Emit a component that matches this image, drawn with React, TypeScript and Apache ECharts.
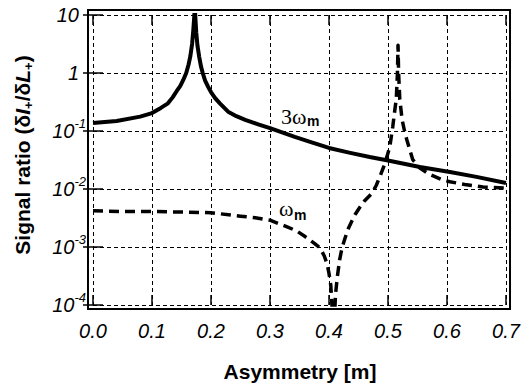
import React, { useEffect, useRef } from "react";
import * as echarts from "echarts";

// 3ω_m curve (solid)
const solidX = [0, 0.04, 0.08, 0.1, 0.115, 0.127, 0.135, 0.142, 0.148, 0.153, 0.158, 0.162, 0.165, 0.168, 0.17, 0.1715, 0.1725, 0.1735, 0.175, 0.177, 0.18, 0.183, 0.186, 0.19, 0.195, 0.2, 0.207, 0.215, 0.229, 0.243, 0.258, 0.28, 0.3, 0.342, 0.368, 0.4, 0.436, 0.469, 0.5, 0.554, 0.605, 0.65, 0.7];
const solidY = [0.137, 0.149, 0.177, 0.204, 0.25, 0.3, 0.38, 0.49, 0.6, 0.76, 1.0, 1.4, 1.95, 3.2, 5.5, 9, 14, 9, 5.0, 3.0, 1.9, 1.3, 1.0, 0.74, 0.58, 0.47, 0.37, 0.3, 0.215, 0.18, 0.155, 0.13, 0.112, 0.079, 0.065, 0.051, 0.042, 0.0356, 0.031, 0.024, 0.0196, 0.0162, 0.0127];

// ω_m curve (dashed)
const dashX = [0, 0.05, 0.1, 0.15, 0.2, 0.25, 0.275, 0.3, 0.33, 0.345, 0.36, 0.373, 0.385, 0.392, 0.397, 0.4, 0.403, 0.408, 0.411, 0.414, 0.418, 0.422, 0.427, 0.432, 0.438, 0.444, 0.452, 0.46, 0.473, 0.48, 0.486, 0.495, 0.503, 0.508, 0.512, 0.514, 0.516, 0.517, 0.518, 0.52, 0.524, 0.528, 0.532, 0.537, 0.542, 0.548, 0.554, 0.57, 0.593, 0.605, 0.63, 0.661, 0.7];
const dashY = [0.0042, 0.0041, 0.0041, 0.004, 0.0039, 0.0034, 0.0032, 0.0029, 0.0022, 0.0019, 0.0015, 0.0012, 0.00096, 0.0007, 0.0005, 0.00035, 0.00022, 0.00003, 0.00015, 0.0003, 0.0006, 0.00096, 0.0014, 0.002, 0.0027, 0.0036, 0.0048, 0.0062, 0.0085, 0.0115, 0.0161, 0.028, 0.053, 0.117, 0.25, 0.35, 1.0, 3.0, 1.0, 0.35, 0.155, 0.1, 0.07, 0.047, 0.032, 0.027, 0.023, 0.018, 0.0143, 0.0133, 0.012, 0.0108, 0.0104];

const xMin = 0;
const xMax = 0.7;
const xStep = 0.1;
const yMin = 0.0001;
const yMax = 10;

const FONT = "'Liberation Sans', Arial, Helvetica, sans-serif";
const SERIF = "'Liberation Serif', 'Times New Roman', serif";

export default function App() {
  const ref = useRef<HTMLDivElement>(null);
  useEffect(() => {
    if (!ref.current) return;
    const chart = echarts.init(ref.current, undefined, { renderer: "svg" });
    const tickStyle = { show: true, inside: true, length: 10, lineStyle: { color: "#000", width: 1.5 } };
    const gridLine = { show: true, lineStyle: { color: "#000", width: 1, type: [4, 3] as any } };
    chart.setOption({
      animation: false,
      backgroundColor: "#fff",
      grid: { left: 93, right: 18, top: 15, bottom: 81 },
      xAxis: [
        {
          type: "value",
          min: xMin,
          max: xMax,
          interval: xStep,
          position: "bottom",
          axisLine: { show: false },
          axisTick: tickStyle,
          splitLine: gridLine,
          axisLabel: {
            margin: 16,
            color: "#000",
            fontSize: 20,
            fontStyle: "italic",
            fontFamily: FONT,
            formatter: (v: number) => v.toFixed(1),
          },
        },
        {
          type: "value",
          min: xMin,
          max: xMax,
          interval: xStep,
          position: "top",
          axisLine: { show: false },
          axisTick: tickStyle,
          splitLine: { show: false },
          axisLabel: { show: false },
        },
      ],
      yAxis: [
        {
          type: "log",
          logBase: 10,
          min: yMin,
          max: yMax,
          interval: 1,
          position: "left",
          axisLine: { show: false },
          axisTick: tickStyle,
          splitLine: gridLine,
          minorTick: { show: false },
          axisLabel: {
            margin: 7,
            color: "#000",
            fontFamily: FONT,
            formatter: (v: number) => {
              const e = Math.round(Math.log10(v));
              if (e === 0) return "{b|1}{sp| }";
              if (e === 1) return "{b|10}{sp| }";
              return "{b|10}{s|" + e + "}";
            },
            rich: {
              b: { fontSize: 20, fontStyle: "italic", fontFamily: FONT, color: "#000", lineHeight: 28 },
              s: { fontSize: 13, fontStyle: "italic", fontFamily: FONT, color: "#000", verticalAlign: "top", lineHeight: 13 },
              sp: { width: 7, fontSize: 13 },
            },
          },
        },
        {
          type: "log",
          logBase: 10,
          min: yMin,
          max: yMax,
          interval: 1,
          position: "right",
          axisLine: { show: false },
          axisTick: tickStyle,
          splitLine: { show: false },
          axisLabel: { show: false },
        },
      ],
      graphic: [
        {
          type: "rect",
          z: 100,
          shape: { x: 88, y: 10, width: 422, height: 299 },
          style: { fill: "none", stroke: "#000", lineWidth: 2 },
        },
        {
          type: "text",
          x: 22,
          y: 155,
          rotation: Math.PI / 2,
          style: {
            text: "{t|Signal ratio (δ}{i|I}{s|+}{t|/δ}{i|L}{s|+}{t|)}",
            align: "center",
            verticalAlign: "middle",
            rich: {
              t: { fontSize: 21, fontWeight: "bold", fontFamily: FONT, fill: "#000", lineHeight: 26 },
              i: { fontSize: 21, fontWeight: "bold", fontStyle: "italic", fontFamily: FONT, fill: "#000", lineHeight: 26 },
              s: { fontSize: 13, fontWeight: "bold", fontFamily: FONT, fill: "#000", verticalAlign: "bottom", lineHeight: 13 },
            },
          },
        },
        {
          type: "text",
          x: 300,
          y: 371,
          style: {
            text: "Asymmetry [m]",
            align: "center",
            verticalAlign: "middle",
            font: "bold 21px " + FONT,
            fill: "#000",
          },
        },
        {
          type: "text",
          x: 281,
          y: 116,
          style: { text: "3ω", align: "left", verticalAlign: "middle", font: "22px " + SERIF, fill: "#000" },
        },
        {
          type: "text",
          x: 307,
          y: 121,
          style: { text: "m", align: "left", verticalAlign: "middle", font: "bold 14px " + FONT, fill: "#000" },
        },
        {
          type: "text",
          x: 279,
          y: 208,
          style: { text: "ω", align: "left", verticalAlign: "middle", font: "22px " + SERIF, fill: "#000" },
        },
        {
          type: "text",
          x: 294,
          y: 215,
          style: { text: "m", align: "left", verticalAlign: "middle", font: "bold 14px " + FONT, fill: "#000" },
        },
      ],
      series: [
        {
          type: "line",
          xAxisIndex: 0,
          yAxisIndex: 0,
          data: solidX.map((x, i) => [x, solidY[i]]),
          showSymbol: false,
          symbol: "none",
          clip: true,
          lineStyle: { color: "#000", width: 4, type: "solid", join: "round" },
        },
        {
          type: "line",
          xAxisIndex: 0,
          yAxisIndex: 0,
          data: dashX.map((x, i) => [x, dashY[i]]),
          showSymbol: false,
          symbol: "none",
          clip: true,
          lineStyle: { color: "#000", width: 3.5, type: [10, 6], join: "round" },
        },
      ],
    });
    return () => chart.dispose();
  }, []);
  return <div ref={ref} style={{ position: "fixed", left: 0, top: 0, width: 524, height: 386, background: "#fff" }} />;
}
